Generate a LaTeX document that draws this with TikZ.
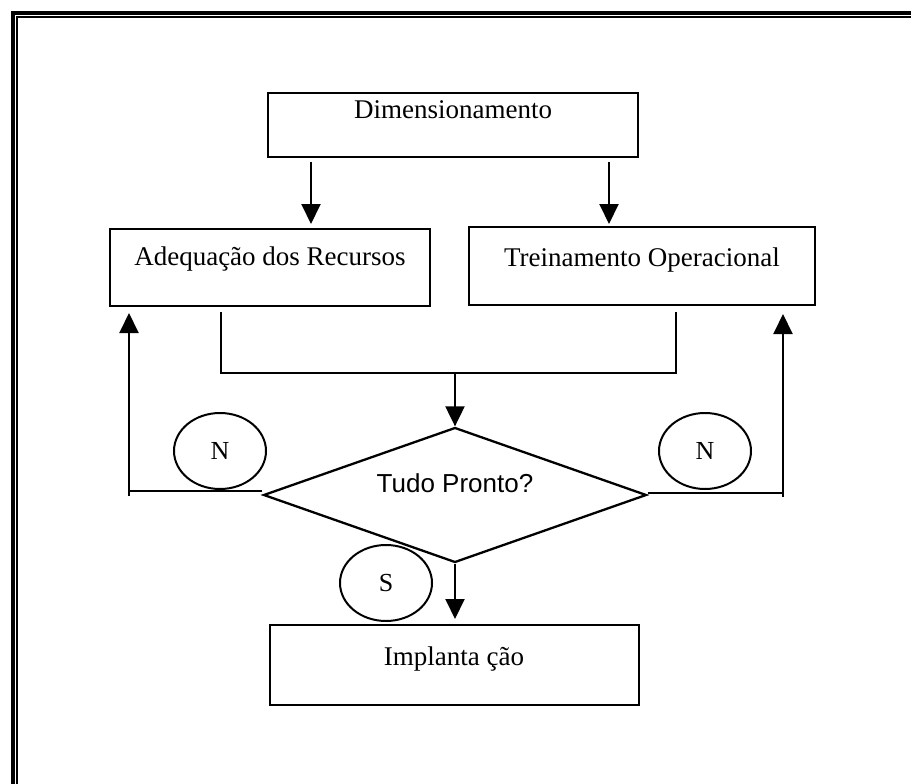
\documentclass[tikz,border=0pt]{standalone}
\usepackage{fontspec}
\setmainfont{Liberation Serif}
\newfontfamily\arialfont{Liberation Sans}
\usetikzlibrary{arrows.meta,shapes.geometric}

\begin{document}
\begin{tikzpicture}[x=1pt,y=-1pt,
  line width=2pt,
  flow/.style={-{Triangle[width=19pt,length=20pt]}},
  stepbox/.style={draw, rectangle, inner xsep=0pt, inner ysep=0pt,
    font=\fontsize{27}{32}\selectfont},
  tag/.style={draw, ellipse, minimum width=92pt, minimum height=76pt,
    inner sep=0pt, font=\fontsize{26}{30}\selectfont},
]
\useasboundingbox (0,0) rectangle (911,784);

% double page frame
\draw[line width=4pt] (13,13) rectangle (960,840);
\draw[line width=2pt] (17,17) rectangle (955,835);

% process boxes
\node[stepbox, minimum width=370pt, text height=25pt, text depth=39pt]
  (dim) at (453,125) {Dimensionamento};
\node[stepbox, minimum width=320pt, text height=36pt, text depth=41pt]
  (ade) at (270,267.5) {Adequação dos Recursos};
\node[stepbox, minimum width=346pt, text height=39pt, text depth=39pt]
  (tre) at (642,266) {Treinamento Operacional};
\node[stepbox, minimum width=369pt, text height=40pt, text depth=40pt]
  (imp) at (454,665) {Implanta ção};

% decision
\node[draw, diamond, aspect=2.84, minimum width=383pt, minimum height=135pt,
  inner sep=0pt, text height=20pt, text depth=26pt, line width=2.3pt,
  font=\arialfont\fontsize{26}{30}\selectfont]
  (ok) at (455,495) {Tudo Pronto?};

% answer tags
\node[tag] (nl) at (220,451) {N};
\node[tag] (nr) at (705,451) {N};
\node[tag] (sy) at (386,583) {S};

% columns and rows used by the connectors
\coordinate (colL) at (311,0);
\coordinate (colR) at (609,0);
\coordinate (mergeL) at (221,0);
\coordinate (mergeR) at (676,0);
\coordinate (mergeRow) at (0,373);
\coordinate (loopL) at (129,0);
\coordinate (loopR) at (783,0);

% from sizing to the two parallel tasks
\draw[flow, shorten >=4pt] ([yshift=-4pt]dim.south -| colL) -- (ade.north -| colL);
\draw[flow, shorten >=2pt] ([yshift=-4pt]dim.south -| colR) -- (tre.north -| colR);

% both tasks join into the decision
\draw ([yshift=-5pt]ade.south -| mergeL) -- (mergeRow -| mergeL)
  -- (mergeRow -| mergeR) -- ([yshift=-6pt]tre.south -| mergeR);
\draw[flow] (mergeRow -| ok.north) -- (ok.north);

% "no" loops back to each task
\draw ([yshift=4pt]ok.west) -- ([yshift=4pt]ok.west -| loopL);
\draw[flow, shorten >=6pt] ([yshift=-1pt]ok.west -| loopL) -- (ade.south -| loopL);
\draw ([yshift=2pt]ok.east) -- ([yshift=2pt]ok.east -| loopR);
\draw[flow, shorten >=8pt] ([yshift=-2pt]ok.east -| loopR) -- (tre.south -| loopR);

% "yes" goes on to deployment
\draw[flow, shorten >=5pt] (ok.south) -- (imp.north -| ok.south);
\end{tikzpicture}
\end{document}
